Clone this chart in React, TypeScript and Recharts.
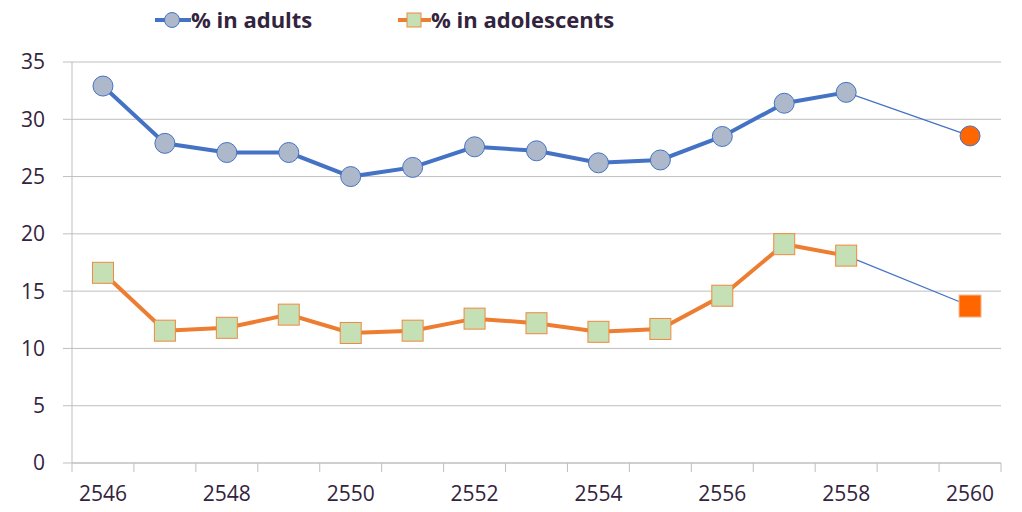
import React from 'react';
import { LineChart, Line, XAxis, YAxis, CartesianGrid, Legend } from 'recharts';

const years = [2546, 2547, 2548, 2549, 2550, 2551, 2552, 2553, 2554, 2555, 2556, 2557, 2558, 2560];
const adults = [32.9, 27.9, 27.1, 27.1, 25.0, 25.8, 27.6, 27.25, 26.2, 26.45, 28.5, 31.4, 32.35, null];
const adolescents = [16.6, 11.55, 11.8, 12.95, 11.35, 11.55, 12.6, 12.2, 11.45, 11.7, 14.6, 19.1, 18.1, null];
const adultsLink = [null, null, null, null, null, null, null, null, null, null, null, null, 32.35, 28.55];
const adolescentsLink = [null, null, null, null, null, null, null, null, null, null, null, null, 18.1, 13.7];
const labelTicks = [2546, 2548, 2550, 2552, 2554, 2556, 2558, 2560];
const boundaryTicks = [2545.5, 2546.5, 2547.5, 2548.5, 2549.5, 2550.5, 2551.5, 2552.5, 2553.5, 2554.5, 2555.5, 2556.5, 2557.5, 2558.5, 2559.5, 2560.5];
const yTicks = [0, 5, 10, 15, 20, 25, 30, 35];

const data = years.map((year, i) => ({
  year,
  adults: adults[i],
  adolescents: adolescents[i],
  adultsLink: adultsLink[i],
  adolescentsLink: adolescentsLink[i],
}));

const BLUE = '#4472c4';
const ORANGE = '#ed7d31';
const TEXT = '#33243d';
const GRID = '#bfbfbf';

const AdultDot = (props: any) => {
  const { cx, cy, index, value } = props;
  if (value == null || cx == null || cy == null) return <g key={`a${index}`} />;
  return <circle key={`a${index}`} cx={cx} cy={cy} r={10} fill="#adb9ca" stroke={BLUE} strokeWidth={1} />;
};

const AdolDot = (props: any) => {
  const { cx, cy, index, value } = props;
  if (value == null || cx == null || cy == null) return <g key={`b${index}`} />;
  return <rect key={`b${index}`} x={cx - 10.5} y={cy - 10.5} width={21} height={21} fill="#c5e0b4" stroke="#f0883e" strokeWidth={1} />;
};

const AdultLinkDot = (props: any) => {
  const { cx, cy, index, value, payload } = props;
  if (value == null || cx == null || cy == null || payload.year !== 2560) return <g key={`c${index}`} />;
  return <circle key={`c${index}`} cx={cx} cy={cy} r={10} fill="#ff6600" stroke={BLUE} strokeWidth={1} />;
};

const AdolLinkDot = (props: any) => {
  const { cx, cy, index, value, payload } = props;
  if (value == null || cx == null || cy == null || payload.year !== 2560) return <g key={`d${index}`} />;
  return <rect key={`d${index}`} x={cx - 11} y={cy - 11} width={22} height={22} fill="#ff6600" stroke="#f9b98c" strokeWidth={1} />;
};

const EmptyTick = () => <g />;

const LegendContent = () => (
  <svg width={1022} height={40} style={{ display: 'block' }}>
    <line x1={155} y1={20} x2={191} y2={20} stroke={BLUE} strokeWidth={4} />
    <circle cx={172} cy={20} r={7.5} fill="#adb9ca" stroke={BLUE} strokeWidth={1} />
    <text x={191} y={28} fontSize={22} fontWeight="bold" fill={TEXT} fontFamily="Open Sans">% in adults</text>
    <line x1={398} y1={20} x2={431} y2={20} stroke={ORANGE} strokeWidth={4} />
    <rect x={407} y={13} width={14} height={14} fill="#c5e0b4" stroke="#f0883e" strokeWidth={1} />
    <text x={431} y={28} fontSize={22} fontWeight="bold" fill={TEXT} fontFamily="Open Sans">% in adolescents</text>
  </svg>
);

export default function App() {
  return (
    <div style={{ position: 'absolute', left: 0, top: 0, width: 1022, height: 512, background: '#fff' }}>
      <LineChart
        width={1022}
        height={512}
        data={data}
        margin={{ top: 22, right: 21, left: 0, bottom: 0 }}
        style={{ fontFamily: 'Open Sans' }}
      >
        <Legend verticalAlign="top" content={<LegendContent />} wrapperStyle={{ top: 0, left: 0, width: 1022, height: 40 }} />
        <CartesianGrid vertical={false} stroke={GRID} strokeWidth={1} xAxisId="b" />
        <XAxis
          xAxisId="b"
          type="number"
          dataKey="year"
          domain={[2545.5, 2560.5]}
          ticks={labelTicks}
          interval={0}
          tickLine={false}
          axisLine={false}
          tickSize={9}
          tickMargin={13}
          height={48}
          tick={{ fill: TEXT, fontSize: 21 }}
          allowDataOverflow
        />
        <XAxis
          xAxisId="a"
          type="number"
          dataKey="year"
          domain={[2545.5, 2560.5]}
          ticks={boundaryTicks}
          interval={0}
          tick={<EmptyTick />}
          tickSize={9}
          tickLine={{ stroke: GRID }}
          axisLine={{ stroke: GRID }}
          height={1}
          allowDataOverflow
        />
        <YAxis
          width={72}
          domain={[0, 35]}
          ticks={yTicks}
          tickSize={9}
          tickMargin={18}
          tickLine={{ stroke: GRID }}
          axisLine={{ stroke: GRID }}
          tick={{ fill: TEXT, fontSize: 21 }}
          interval={0}
        />
        <Line xAxisId="b" dataKey="adultsLink" stroke={BLUE} strokeWidth={1.2} dot={AdultLinkDot} activeDot={false} isAnimationActive={false} legendType="none" />
        <Line xAxisId="b" dataKey="adolescentsLink" stroke={BLUE} strokeWidth={1.2} dot={AdolLinkDot} activeDot={false} isAnimationActive={false} legendType="none" />
        <Line xAxisId="b" dataKey="adults" name="% in adults" stroke={BLUE} strokeWidth={4} dot={AdultDot} activeDot={false} isAnimationActive={false} />
        <Line xAxisId="b" dataKey="adolescents" name="% in adolescents" stroke={ORANGE} strokeWidth={4} dot={AdolDot} activeDot={false} isAnimationActive={false} />
      </LineChart>
    </div>
  );
}
